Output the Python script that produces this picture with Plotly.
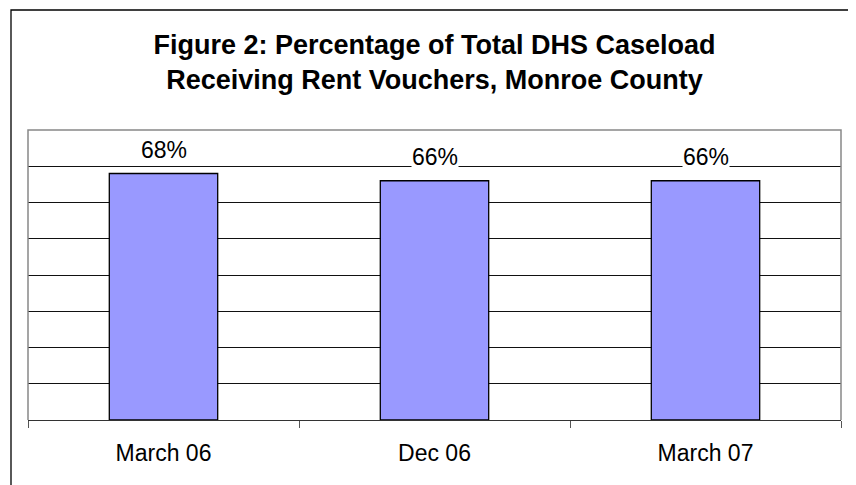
import plotly.graph_objects as go

categories = ["March 06", "Dec 06", "March 07"]
values = [68, 66, 66]
value_labels = ["68%", "66%", "66%"]
title_lines = ["Figure 2: Percentage of Total DHS Caseload",
               "Receiving Rent Vouchers, Monroe County"]

FONT = "Liberation Sans, Arial, sans-serif"
# page has an 8px body margin, so the figure is sized/positioned accordingly
W, H = 848, 477
L, R, T, B = 20, 15, 122, 65
pw, ph = W - L - R, H - T - B

fig = go.Figure()
fig.add_trace(go.Bar(
    x=categories, y=values, width=0.4,
    marker=dict(color="#9999FF", line=dict(color="#000000", width=1.3)),
    hoverinfo="skip",
))

for c, v, t in zip(categories, values, value_labels):
    fig.add_annotation(x=c, y=v, text=t, showarrow=False, yanchor="bottom",
                       yshift=10, bgcolor="white", borderpad=0,
                       font=dict(family=FONT, size=23, color="#000000"))

# outer chart border: only left and top edges are visible in the frame
bx0 = (3 - L) / pw
bx1 = (W + 20 - L) / pw
by0 = -(H + 20 - (T + ph)) / ph
by1 = (T + ph - 2) / ph
fig.add_shape(type="path", xref="paper", yref="paper",
              path=f"M {bx0},{by0} L {bx0},{by1} L {bx1},{by1}",
              line=dict(color="#000000", width=1.3), layer="below")
# plot area border: left, top, right (gray)
fig.add_shape(type="path", xref="paper", yref="paper",
              path="M 0,0 L 0,1 L 1,1 L 1,0",
              line=dict(color="#888888", width=1.5))

fig.update_layout(
    width=W, height=H,
    margin=dict(l=L, r=R, t=T, b=B),
    paper_bgcolor="white", plot_bgcolor="white",
    showlegend=False,
    bargap=0.6,
    title=dict(text="<br>".join(title_lines), x=0.5, xref="paper", xanchor="center",
               y=1 - 46 / H, yref="container", yanchor="middle",
               font=dict(family=FONT, size=27, color="#000000", weight="bold")),
    xaxis=dict(showline=True, linecolor="#333333", linewidth=1.3,
               ticks="outside", tickson="boundaries", ticklen=7, tickcolor="#555555",
               tickwidth=1, tickfont=dict(family=FONT, size=23, color="#000000"),
               ticklabelstandoff=12, showgrid=False, fixedrange=True),
    yaxis=dict(range=[0, 80], dtick=10, showgrid=True, gridcolor="#111111", gridwidth=1,
               showticklabels=False, ticks="", zeroline=False, showline=False,
               fixedrange=True),
)

fig.write_html("out.html")
